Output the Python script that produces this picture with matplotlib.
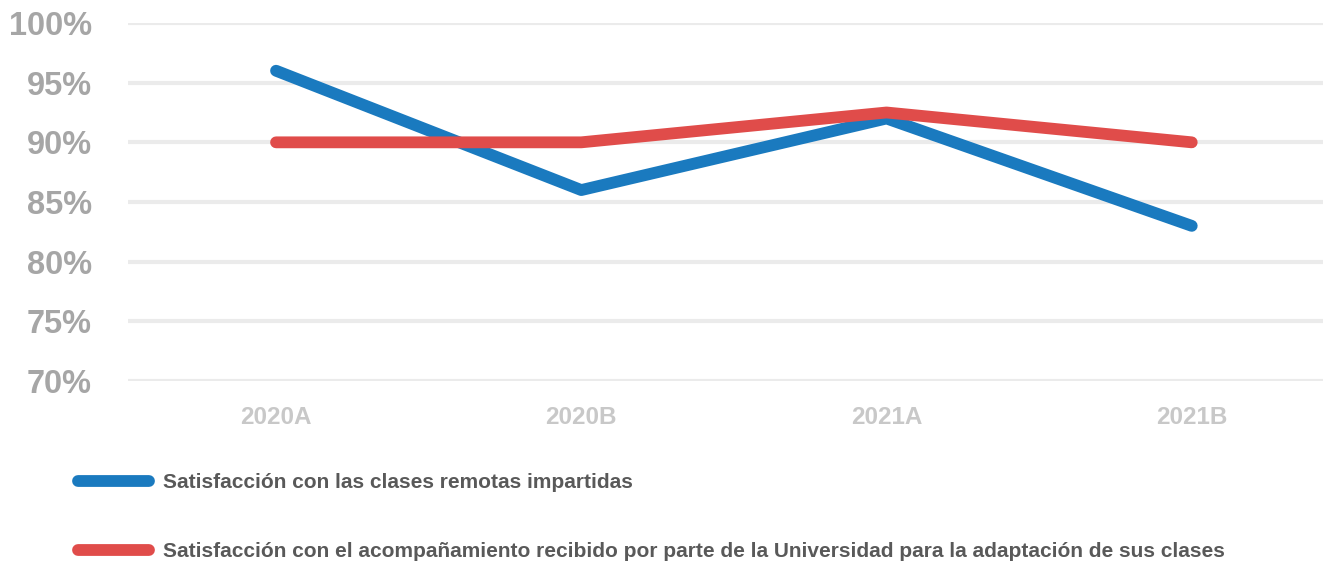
import matplotlib.pyplot as plt
from matplotlib.ticker import FuncFormatter

periods = ["2020A", "2020B", "2021A", "2021B"]
remote_classes = [96, 86, 92, 83]
university_support = [90, 90, 92.5, 90]
labels = [
    "Satisfacción con las clases remotas impartidas",
    "Satisfacción con el acompañamiento recibido por parte de la Universidad para la adaptación de sus clases",
]
yticks = [70, 75, 80, 85, 90, 95, 100]


def main():
    plt.rcParams["font.family"] = ["Liberation Sans", "DejaVu Sans"]
    plt.rcParams["font.weight"] = "bold"

    fig = plt.figure(figsize=(13.23, 5.62), dpi=100)
    ax = fig.add_axes([128 / 1323, 1 - 381 / 562, 1 - 128 / 1323, (381 - 23) / 562])

    x = range(len(periods))
    ax.plot(x, remote_classes, color="#1a7abf", lw=8.5, solid_capstyle="round",
            solid_joinstyle="round", label=labels[0], zorder=3)
    ax.plot(x, university_support, color="#e04c4a", lw=8.5, solid_capstyle="round",
            solid_joinstyle="round", label=labels[1], zorder=4)

    ax.set_ylim(70, 100)
    ax.set_xlim(-0.485, 3.43)
    ax.set_yticks(yticks)
    ax.yaxis.set_major_formatter(FuncFormatter(lambda v, p: f"{v:.0f}%"))
    ax.set_xticks(list(x))
    ax.set_xticklabels(periods)

    ax.grid(True, axis="y", color="#ebebeb", lw=3)
    ax.set_axisbelow(True)
    for s in ax.spines.values():
        s.set_visible(False)
    ax.tick_params(axis="y", length=0, pad=26, labelsize=23.5, labelcolor="#a6a6a6")
    ax.tick_params(axis="x", length=0, pad=18, labelsize=17.5, labelcolor="#c8c8c8")

    fig.legend(loc="upper left", bbox_to_anchor=(78 / 1323, 1 - 473 / 562),
               frameon=False, borderpad=0, borderaxespad=0,
               handlelength=3.4, handletextpad=0.67,
               labelspacing=2.42, fontsize=15, labelcolor="#595959")

    fig.savefig("out.png", dpi=100)


if __name__ == "__main__":
    main()
